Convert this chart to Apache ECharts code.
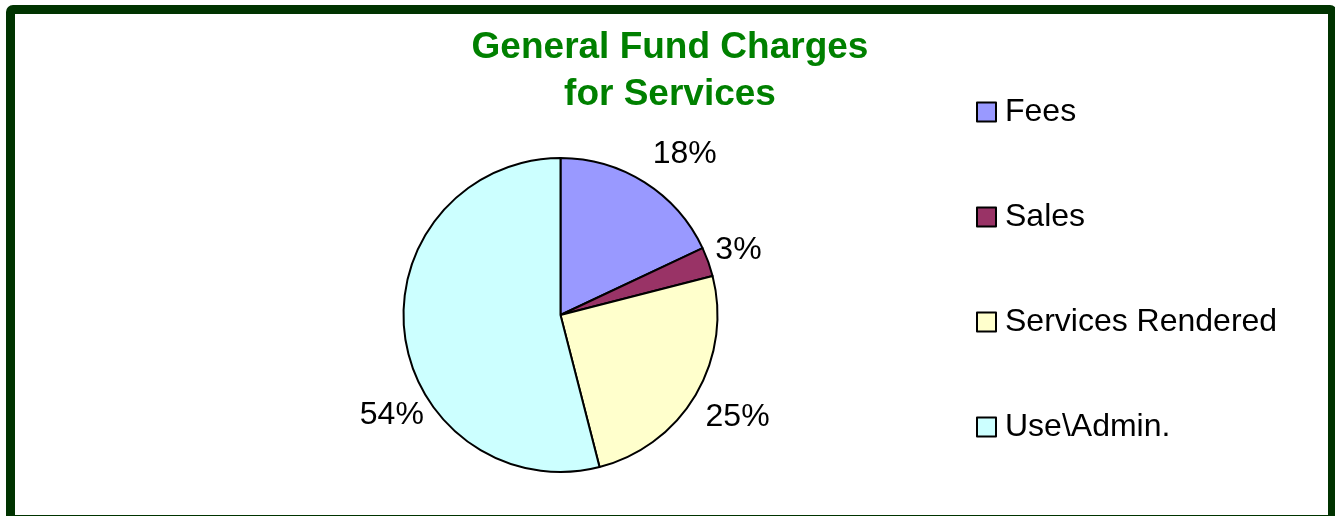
<!DOCTYPE html>
<html>
<head>
<meta charset="utf-8">
<script src="https://cdn.jsdelivr.net/npm/echarts@6/dist/echarts.min.js"></script>
<style>
  html, body { margin: 0; padding: 0; background: #ffffff; }
  #frame {
    position: absolute; left: 6px; top: 5px; width: 1331px; height: 519px;
    box-sizing: border-box; border: 9px solid #003300; border-radius: 7px;
  }
  #chart { position: absolute; left: 0; top: 0; width: 1335px; height: 516px; }
</style>
</head>
<body>
<div id="frame"></div>
<div id="chart"></div>
<script>
// Charges for services, share of the General Fund (percent)
const categories = ['Fees', 'Sales', 'Services Rendered', 'Use\\Admin.'];
const shares = [18, 3, 25, 54];
const sliceColors = ['#9999FF', '#993366', '#FFFFCC', '#CCFFFF'];

const FONT = '"Liberation Sans", Arial, sans-serif';

// nudges for the outside percentage labels, per slice
const labelNudge = [[-5, -16], [-12, -7], [-8, 15], [39, 79]];

const chart = echarts.init(document.getElementById('chart'), null, { renderer: 'canvas' });

chart.setOption({
  animation: false,
  backgroundColor: 'transparent',
  title: {
    text: 'General Fund Charges\nfor Services',
    left: 665,
    textAlign: 'center',
    top: 19,
    textStyle: {
      fontFamily: FONT, fontSize: 37, fontWeight: 'bold',
      color: '#008000', lineHeight: 47
    }
  },
  legend: {
    orient: 'vertical',
    left: 971,
    top: 89,
    itemWidth: 19,
    itemHeight: 19,
    itemGap: 69,
    icon: 'rect',
    data: categories,
    itemStyle: { borderColor: '#000000', borderWidth: 2 },
    textStyle: {
      fontFamily: FONT, fontSize: 32, color: '#000000',
      lineHeight: 36, padding: [0, 0, 0, 4]
    }
  },
  series: [{
    type: 'pie',
    center: [560.5, 315],
    radius: 157,
    startAngle: 90,
    clockwise: true,
    avoidLabelOverlap: false,
    data: categories.map((name, i) => ({
      name, value: shares[i], itemStyle: { color: sliceColors[i] }
    })),
    itemStyle: { borderColor: '#000000', borderWidth: 2 },
    label: {
      show: true,
      position: 'outside',
      formatter: p => p.value + '%',
      fontFamily: FONT, fontSize: 32, color: '#000000'
    },
    labelLine: { show: false, length: 15, length2: 0 },
    labelLayout: p => ({ dx: labelNudge[p.dataIndex][0], dy: labelNudge[p.dataIndex][1] }),
    emphasis: { disabled: true }
  }]
});
</script>
</body>
</html>
